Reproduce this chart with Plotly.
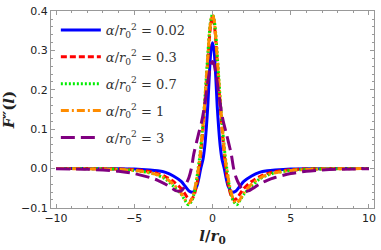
import plotly.graph_objects as go

# l / r0 sample positions (half-axis readings mirrored into full lists)
l_blue = [-10, -8, -6, -5, -4, -3.5, -3, -2.5, -2, -1.75, -1.5, -1.25, -1, -0.9, -0.75, -0.6, -0.5, -0.4, -0.3, -0.2, -0.1, 0,
          0.1, 0.2, 0.3, 0.4, 0.5, 0.6, 0.75, 0.9, 1, 1.25, 1.5, 1.75, 2, 2.5, 3, 3.5, 4, 5, 6, 8, 10]
F_blue = [0, -0.0002, -0.0007, -0.0015, -0.004, -0.006, -0.010, -0.019, -0.033, -0.045, -0.057, -0.060, -0.045, -0.030, 0.0, 0.025, 0.055, 0.10, 0.16, 0.24, 0.30, 0.32,
          0.30, 0.24, 0.16, 0.10, 0.055, 0.025, 0.0, -0.030, -0.045, -0.060, -0.057, -0.045, -0.033, -0.019, -0.010, -0.006, -0.004, -0.0015, -0.0007, -0.0002, 0]

l_red = [-10, -8, -6, -5, -4, -3.5, -3, -2.5, -2, -1.8, -1.6, -1.4, -1.2, -1, -0.85, -0.7, -0.6, -0.5, -0.4, -0.3, -0.2, -0.1, 0,
         0.1, 0.2, 0.3, 0.4, 0.5, 0.6, 0.7, 0.85, 1, 1.2, 1.4, 1.6, 1.8, 2, 2.5, 3, 3.5, 4, 5, 6, 8, 10]
F_red = [0, -0.0003, -0.0012, -0.003, -0.008, -0.013, -0.021, -0.033, -0.051, -0.062, -0.074, -0.080, -0.070, -0.040, 0.0, 0.06, 0.105, 0.155, 0.21, 0.27, 0.33, 0.37, 0.385,
         0.37, 0.33, 0.27, 0.21, 0.155, 0.105, 0.06, 0.0, -0.040, -0.070, -0.080, -0.074, -0.062, -0.051, -0.033, -0.021, -0.013, -0.008, -0.003, -0.0012, -0.0003, 0]

l_green = [-10, -8, -6, -5, -4, -3.5, -3, -2.5, -2, -1.8, -1.55, -1.3, -1.1, -0.95, -0.8, -0.7, -0.6, -0.5, -0.4, -0.3, -0.2, -0.1, 0,
           0.1, 0.2, 0.3, 0.4, 0.5, 0.6, 0.7, 0.8, 0.95, 1.1, 1.3, 1.55, 1.8, 2, 2.5, 3, 3.5, 4, 5, 6, 8, 10]
F_green = [0, -0.0005, -0.002, -0.005, -0.011, -0.017, -0.027, -0.045, -0.066, -0.078, -0.092, -0.080, -0.050, -0.010, 0.035, 0.075, 0.12, 0.17, 0.23, 0.29, 0.345, 0.38, 0.392,
           0.38, 0.345, 0.29, 0.23, 0.17, 0.12, 0.075, 0.035, -0.010, -0.050, -0.080, -0.092, -0.078, -0.066, -0.045, -0.027, -0.017, -0.011, -0.005, -0.002, -0.0005, 0]

l_orange = [-10, -8, -6, -5, -4, -3.5, -3, -2.5, -2, -1.7, -1.5, -1.3, -1.1, -0.9, -0.8, -0.7, -0.6, -0.5, -0.4, -0.3, -0.2, -0.1, 0,
            0.1, 0.2, 0.3, 0.4, 0.5, 0.6, 0.7, 0.8, 0.9, 1.1, 1.3, 1.5, 1.7, 2, 2.5, 3, 3.5, 4, 5, 6, 8, 10]
F_orange = [-0.0002, -0.0007, -0.0025, -0.005, -0.011, -0.016, -0.025, -0.040, -0.063, -0.082, -0.088, -0.075, -0.045, 0.0, 0.03, 0.07, 0.115, 0.165, 0.225, 0.285, 0.34, 0.378, 0.39,
            0.378, 0.34, 0.285, 0.225, 0.165, 0.115, 0.07, 0.03, 0.0, -0.045, -0.075, -0.088, -0.082, -0.063, -0.040, -0.025, -0.016, -0.011, -0.005, -0.0025, -0.0007, -0.0002]

l_purple = [-10, -8, -7, -6, -5, -4, -3.5, -3, -2.6, -2.3, -2, -1.7, -1.5, -1.35, -1.2, -1, -0.88, -0.7, -0.57, -0.4, -0.3, -0.2, -0.1, 0,
            0.1, 0.2, 0.3, 0.4, 0.57, 0.7, 0.88, 1, 1.2, 1.35, 1.5, 1.7, 2, 2.3, 2.6, 3, 3.5, 4, 5, 6, 7, 8, 10]
F_purple = [-0.0005, -0.002, -0.004, -0.007, -0.013, -0.023, -0.030, -0.040, -0.050, -0.057, -0.057, -0.040, -0.022, 0.0, 0.036, 0.07, 0.09, 0.118, 0.145, 0.19, 0.22, 0.245, 0.265, 0.272,
            0.265, 0.245, 0.22, 0.19, 0.145, 0.118, 0.09, 0.07, 0.036, 0.0, -0.022, -0.040, -0.057, -0.057, -0.050, -0.040, -0.030, -0.023, -0.013, -0.007, -0.004, -0.002, -0.0005]

labels = ["0.02", "0.3", "0.7", "1", "3"]
colors = ["#0000FF", "#FF0000", "#00EE00", "#FF8C00", "#800080"]
dashes = ["solid", "6px,3px", "2px,2px", "8px,3px,2px,3px", "14px,6px"]

x_ticks = [-10, -5, 0, 5, 10]
y_ticks = [-0.1, 0.0, 0.1, 0.2, 0.3, 0.4]
y_ticktext = ["−0.1", "0.0", "0.1", "0.2", "0.3", "0.4"]
x_ticktext = ["−10", "−5", "0", "5", "10"]

series = [(l_blue, F_blue), (l_red, F_red), (l_green, F_green), (l_orange, F_orange), (l_purple, F_purple)]

fig = go.Figure()
for i, ((xs, ys), lab, c, d) in enumerate(zip(series, labels, colors, dashes)):
    fig.add_trace(go.Scatter(
        x=xs, y=ys, mode="lines", line=dict(color=c, width=3, dash=d, shape="spline", smoothing=0.8),
        name="<i>α</i>/<i>r</i><sub>0</sub><sup>2</sup> = " + lab, legendgroup=str(i)))

axis_common = dict(showline=True, linecolor="#999999", linewidth=1, mirror="allticks",
                   ticks="inside", ticklen=4, tickcolor="#999999", showgrid=False, zeroline=False,
                   tickfont=dict(family="DejaVu Sans", size=11, color="#222"))

fig.update_xaxes(range=[-10.32, 10.32], tickvals=x_ticks, ticktext=x_ticktext,
                 minor=dict(ticks="inside", dtick=1, ticklen=2, tickcolor="#999999"),
                 title=dict(text="<b><i>l</i>/<i>r</i><sub>0</sub></b>", standoff=6,
                            font=dict(family="DejaVu Serif", size=15, color="#222")),
                 **axis_common)
fig.update_yaxes(range=[-0.1005, 0.4005], tickvals=y_ticks, ticktext=y_ticktext,
                 minor=dict(ticks="inside", dtick=0.02, tick0=0, ticklen=2, tickcolor="#999999"),
                 title=dict(text="<b><i>F″</i>(<i>l</i>)</b>", standoff=6,
                            font=dict(family="DejaVu Serif", size=15, color="#222")),
                 **axis_common)

fig.update_layout(
    width=381, height=250, margin=dict(l=49, r=5, t=6, b=42),
    plot_bgcolor="white", paper_bgcolor="white",
    legend=dict(x=0.015, y=0.98, xanchor="left", yanchor="top", bgcolor="rgba(0,0,0,0)",
                font=dict(family="DejaVu Serif", size=13, color="#333"),
                tracegroupgap=7, itemwidth=40),
)

fig.write_html("out.html", config={"displayModeBar": False},
               post_script="document.body.style.margin='0';document.body.style.overflow='hidden';")
